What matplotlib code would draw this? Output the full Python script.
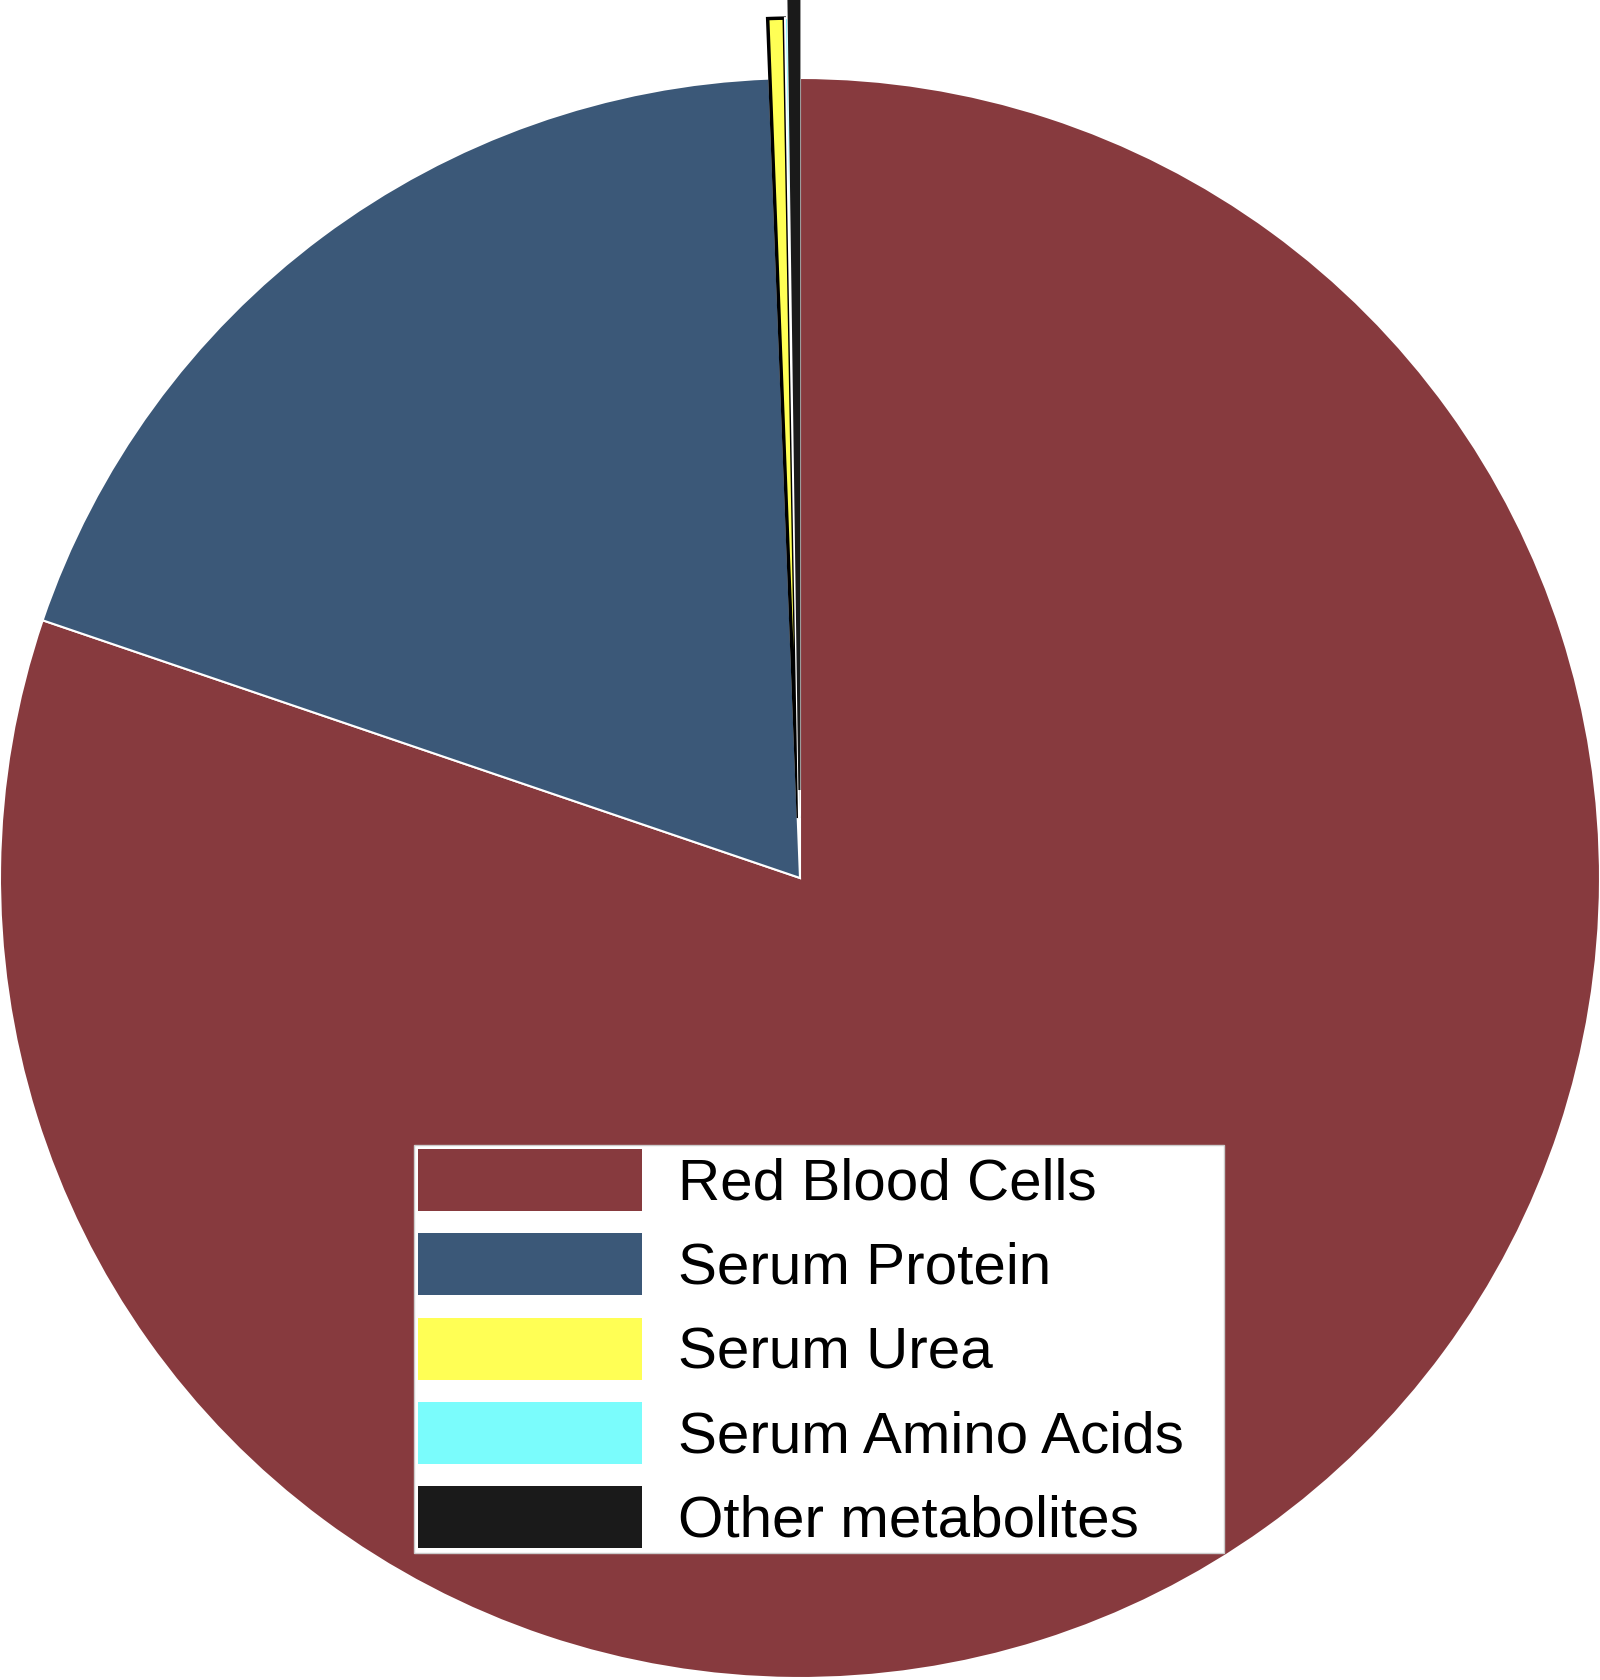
import matplotlib
matplotlib.use('Agg')
import matplotlib.pyplot as plt

# Blood nitrogen pools (percent of total)
labels = ['Red Blood Cells', 'Serum Protein', 'Serum Urea', 'Serum Amino Acids', 'Other metabolites']
values = [80.22, 19.17, 0.33, 0.06, 0.22]
colors = ['#873a3e', '#3b5878', '#ffff55', '#7afcfc', '#1a1a1a']
explode = [0, 0, 0.075, 0.075, 0.11]

plt.rcParams['font.family'] = ['Liberation Sans', 'DejaVu Sans']

fig = plt.figure(figsize=(16, 16.8), dpi=100)
ax = fig.add_axes([0, 0, 1, 1])

wedges, _ = ax.pie(values, colors=colors, explode=explode, startangle=90,
                   counterclock=False, radius=1.0,
                   wedgeprops=dict(edgecolor='white', linewidth=1.5))
# the urea slice has a dark outline
wedges[2].set_edgecolor('black')
wedges[2].set_linewidth(2.5)
wedges[4].set_edgecolor('#1a1a1a')

ax.set_xlim(-1, 1)
ax.set_ylim(-1.0025, 1.0975)
ax.set_aspect('auto')
ax.axis('off')

x0 = 414 / 1600
y1 = 1 - 1145 / 1680
w = (1224 - 414) / 1600
h = (1549 - 1145) / 1680
leg = fig.legend(wedges, labels, loc='upper left',
                 bbox_to_anchor=(x0, y1 - h, w, h), mode='expand',
                 fontsize=42, handlelength=3.84, handleheight=1.26,
                 labelspacing=0.37, handletextpad=0.62, borderpad=0.07,
                 borderaxespad=0, fancybox=False, framealpha=1)
leg.get_frame().set_edgecolor('#cccccc')
leg.get_frame().set_linewidth(1)
for p in leg.get_patches():
    p.set_edgecolor('none')

fig.savefig('out.png', dpi=100)
